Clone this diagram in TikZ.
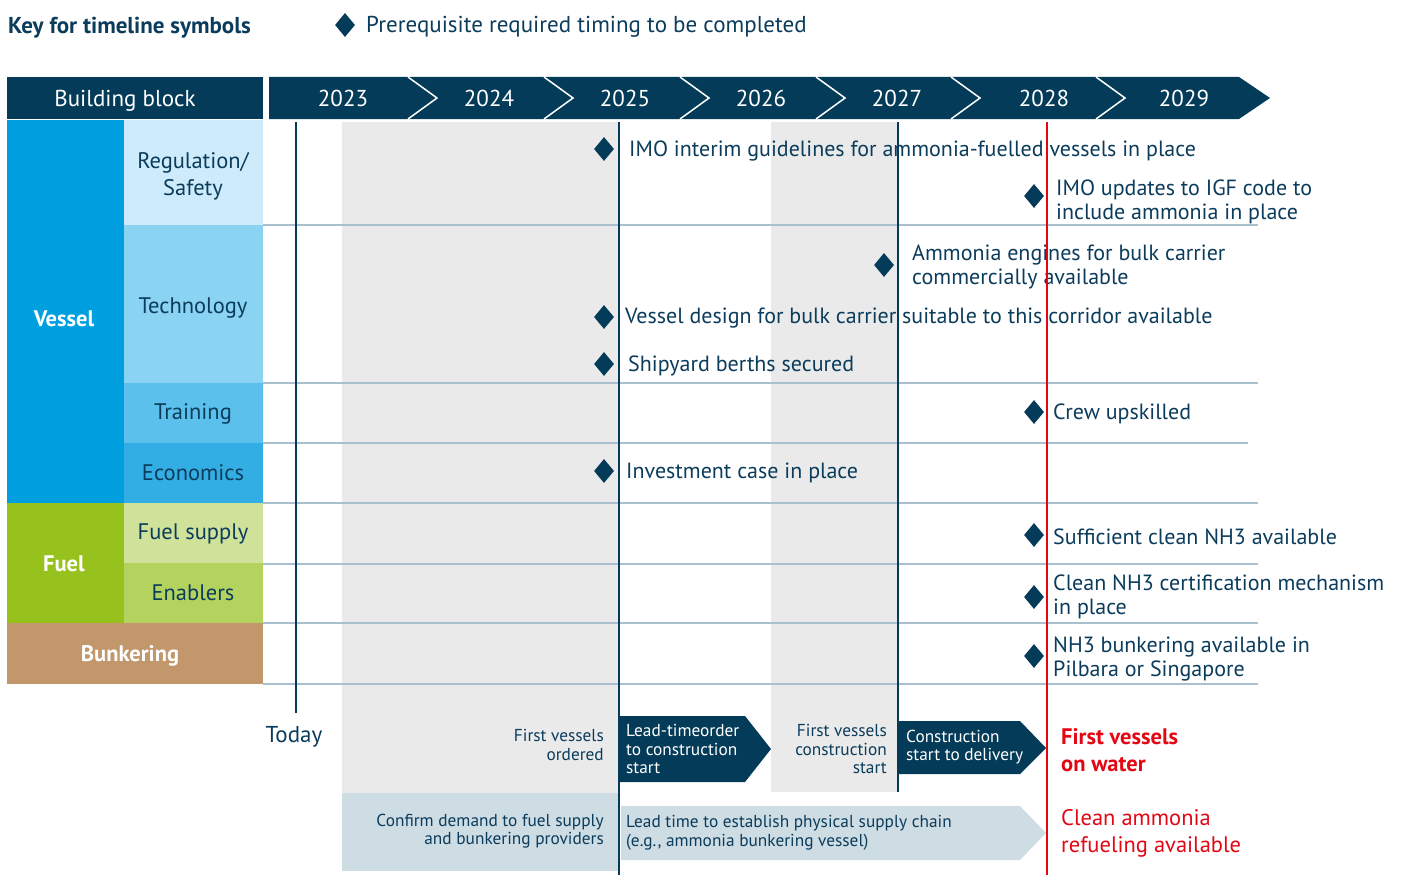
\documentclass[tikz,border=0pt]{standalone}
\usepackage{fontspec}
\setmainfont{PT Sans}
\usetikzlibrary{shapes.geometric}

\definecolor{navy}{HTML}{043B58}
\definecolor{inkblue}{HTML}{0B3C5C}
\definecolor{vesselc}{HTML}{009FE0}
\definecolor{regc}{HTML}{CDEBFA}
\definecolor{techc}{HTML}{8BD3F2}
\definecolor{trainc}{HTML}{5BC0EB}
\definecolor{econc}{HTML}{32AEE5}
\definecolor{fuelc}{HTML}{97C21E}
\definecolor{fsupc}{HTML}{D0E29A}
\definecolor{enabc}{HTML}{B4D35E}
\definecolor{bunkc}{HTML}{C2976B}
\definecolor{gridc}{HTML}{A9C0CF}
\definecolor{greyband}{HTML}{EAEAEA}
\definecolor{paleblue}{HTML}{CEDCE3}
\definecolor{alertred}{HTML}{E30613}

\newcommand{\bigfont}{\fontsize{23}{26}\selectfont}
\newcommand{\lblfont}{\fontsize{22}{24.5}\selectfont}
\newcommand{\rowfont}{\fontsize{22.5}{27}\selectfont}
\newcommand{\notefont}{\fontsize{17.3}{18.5}\selectfont}

\tikzset{
  ms/.style={diamond, fill=navy, inner sep=0, minimum width=20pt, minimum height=24pt},
  mstxt/.style={anchor=west, align=left, inner sep=0, yshift=-2pt, text=inkblue, font=\lblfont},
  rowlbl/.style={align=center, inner sep=0, yshift=-1.5pt, text=inkblue, font=\rowfont},
  grplbl/.style={align=center, inner sep=0, text=white, font=\rowfont\bfseries},
  yearlbl/.style={inner sep=0, text=white, font=\bigfont},
  gridln/.style={gridc, line width=1.2pt},
  mark line/.style={navy, line width=2.5pt},
}

\begin{document}
\begin{tikzpicture}[x=1pt, y=-1pt]
\useasboundingbox (0,0) rectangle (1408,875);

% key
\node[anchor=west, inner sep=0, yshift=-3pt, text=inkblue, font=\bigfont\bfseries] (keytitle) at (8,25) {Key for timeline symbols};
\node[ms] (keydia) at (345,25) {};
\node[mstxt, font=\bigfont] (keytxt) at (366,25) {Prerequisite required timing to be completed};

% header
\fill[navy] (7,77) rectangle (263,119);
\node[yearlbl, yshift=-3pt] (bblock) at (125,98) {Building block};
\fill[navy] (269,77) -- (1239,77) -- (1270,98) -- (1239,119) -- (269,119) -- cycle;
\foreach \s in {408,544,680,816,951,1096}
  \draw[white, line width=1.5pt] (\s,77) -- (\s+29,98) -- (\s,119);
\node[yearlbl] (y2023) at (343,98) {2023};
\node[yearlbl] (y2024) at (489,98) {2024};
\node[yearlbl] (y2025) at (625,98) {2025};
\node[yearlbl] (y2026) at (761,98) {2026};
\node[yearlbl] (y2027) at (897,98) {2027};
\node[yearlbl] (y2028) at (1044,98) {2028};
\node[yearlbl] (y2029) at (1184,98) {2029};

% building blocks
\fill[vesselc] (7,120) rectangle (124,503);
\fill[regc] (124,120) rectangle (263,225);
\fill[techc] (124,225) rectangle (263,383);
\fill[trainc] (124,383) rectangle (263,443);
\fill[econc] (124,443) rectangle (263,503);
\fill[fuelc] (7,503) rectangle (124,623);
\fill[fsupc] (124,503) rectangle (263,563);
\fill[enabc] (124,563) rectangle (263,623);
\fill[bunkc] (7,623) rectangle (263,684);
\node[grplbl] (vessel) at (64,319) {Vessel};
\node[grplbl] (fuel) at (64,564) {Fuel};
\node[grplbl, yshift=-1.5pt] (bunker) at (130,654) {Bunkering};
\node[rowlbl] (reg) at (193,175) {Regulation/\\Safety};
\node[rowlbl] (tech) at (193,307) {Technology};
\node[rowlbl] (train) at (193,412) {Training};
\node[rowlbl] (econ) at (193,471) {Economics};
\node[rowlbl] (fsupply) at (193,532) {Fuel supply};
\node[rowlbl] (enabl) at (193,591) {Enablers};

% shaded periods
\fill[greyband] (342,122) rectangle (619,793);
\fill[greyband] (771,122) rectangle (898,792);
\fill[paleblue] (342,793) rectangle (619,871);

% row lines
\draw[gridln] (263,225) -- (1258,225);
\draw[gridln] (263,383) -- (1258,383);
\draw[gridln] (263,443) -- (1248,443);
\draw[gridln] (263,503) -- (1258,503);
\draw[gridln] (263,564) -- (1258,564);
\draw[gridln] (263,623) -- (1258,623);
\draw[gridln] (263,684) -- (1258,684);

% milestones
\node[ms] (dimo) at (604,149) {};
\node[mstxt] (timo) at (629,149) {IMO interim guidelines for ammonia-fuelled vessels in place};
\node[ms] (digf) at (1034,196) {};
\node[mstxt] (tigf) at (1056,200) {IMO updates to IGF code to\\include ammonia in place};
\node[ms] (deng) at (884,265) {};
\node[mstxt] (teng) at (912,265) {Ammonia engines for bulk carrier\\commercially available};
\node[ms] (ddes) at (604,317) {};
\node[mstxt] (tdes) at (625,316) {Vessel design for bulk carrier suitable to this corridor available};
\node[ms] (dyard) at (604,364) {};
\node[mstxt] (tyard) at (628,364) {Shipyard berths secured};
\node[ms] (dcrew) at (1034,412) {};
\node[mstxt] (tcrew) at (1053,412) {Crew upskilled};
\node[ms] (dinv) at (604,471) {};
\node[mstxt] (tinv) at (626,471) {Investment case in place};
\node[ms] (dnh) at (1034,535) {};
\node[mstxt] (tnh) at (1053,535) {Sufficient clean NH3 available};
\node[ms] (dcert) at (1034,597) {};
\node[mstxt] (tcert) at (1053,595) {Clean NH3 certification mechanism\\in place};
\node[ms] (dbunk) at (1034,656) {};
\node[mstxt] (tbunk) at (1053,657) {NH3 bunkering available in\\Pilbara or Singapore};

% lead times
\fill[navy] (619,716) -- (745,716) -- (771,749) -- (745,782) -- (619,782) -- cycle;
\fill[navy] (899,721) -- (1020,721) -- (1046,748) -- (1020,774) -- (899,774) -- cycle;
\fill[paleblue] (621,806) -- (1020,806) -- (1046,833) -- (1020,860) -- (621,860) -- cycle;
\node[anchor=west, align=left, inner sep=0, text=white, font=\notefont] (leadord) at (626,749) {Lead-timeorder\\to construction\\start};
\node[anchor=west, align=left, inner sep=0, text=white, font=\notefont] (constr) at (906,747) {Construction\\start to delivery};
\node[anchor=east, align=right, inner sep=0, text=inkblue, font=\notefont] (ordered) at (604,745) {First vessels\\ordered};
\node[anchor=east, align=right, inner sep=0, text=inkblue, font=\notefont] (cstart) at (887,749) {First vessels\\construction\\start};
\node[anchor=east, align=right, inner sep=0, text=inkblue, font=\notefont] (demand) at (604,831) {Confirm demand to fuel supply\\and bunkering providers};
\node[anchor=west, align=left, inner sep=0, text=inkblue, font=\notefont] (supply) at (626,833) {Lead time to establish physical supply chain\\(e.g., ammonia bunkering vessel)};
\node[inner sep=0, yshift=-3pt, text=inkblue, font=\bigfont] (today) at (294,734) {Today};
\node[anchor=west, align=left, inner sep=0, text=alertred, font=\rowfont\bfseries] (onwater) at (1061,750) {First vessels\\on water};
\node[anchor=west, align=left, inner sep=0, text=alertred, font=\rowfont] (refuel) at (1061,833) {Clean ammonia\\refueling available};

% time markers
\draw[mark line] (296,122) -- (296,713);
\draw[mark line] (619,122) -- (619,875);
\draw[mark line] (898,122) -- (898,792);
\draw[alertred, line width=2pt] (1047,122) -- (1047,875);
\end{tikzpicture}
\end{document}
